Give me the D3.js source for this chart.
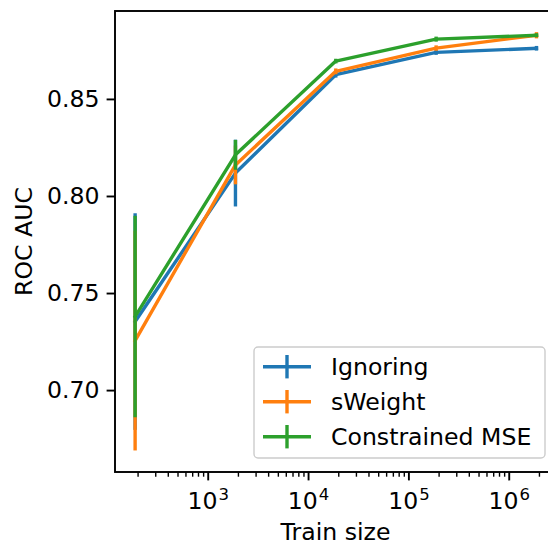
<!DOCTYPE html>
<html>
<head>
<meta charset="utf-8">
<script src="https://cdn.jsdelivr.net/npm/d3@7"></script>
<style>
  html, body { margin: 0; padding: 0; background: #fff; }
  svg { display: block; }
  text { font-family: "DejaVu Sans", sans-serif; fill: #000; }
</style>
</head>
<body>
<div id="chart"></div>
<script>
// ---- data ----
const trainSizes = [189, 1890, 18900, 189000, 1890000];
const seriesNames = ["Ignoring", "sWeight", "Constrained MSE"];
const seriesColors = ["#1f77b4", "#ff7f0e", "#2ca02c"];
const ignoring = [0.7353, 0.8118, 0.8625, 0.8740, 0.8761];
const ignoringErr = [0.0558, 0.0172, 0.0015, 0.0013, 0.0012];
const sweight = [0.7255, 0.8160, 0.8642, 0.8762, 0.8828];
const sweightErr = [0.0566, 0.0100, 0.0015, 0.0014, 0.0016];
const constrained = [0.7379, 0.8212, 0.8695, 0.8808, 0.8828];
const constrainedErr = [0.0519, 0.0077, 0.0012, 0.0013, 0.0010];
const yTicks = [0.70, 0.75, 0.80, 0.85];
const yTickLabels = ["0.70", "0.75", "0.80", "0.85"];
const xTicks = [1e3, 1e4, 1e5, 1e6];
const xTickExps = ["3", "4", "5", "6"];
const xLabel = "Train size";
const yLabel = "ROC AUC";

const seriesValues = [ignoring, sweight, constrained];
const seriesErrs = [ignoringErr, sweightErr, constrainedErr];

// ---- layout ----
const W = 548, H = 544;
const pL = 115, pT = 11, pR = 556.5, pB = 472;
const FS = 23.6;
const LW = 3.4;

const svg = d3.select("#chart").append("svg").attr("width", W).attr("height", H);

const x = d3.scaleLog().domain([Math.pow(10, 2.076), Math.pow(10, 6.476)]).range([pL, pR]);
const y = d3.scaleLinear().domain([0.6578, 0.8953]).range([pB, pT]);

// ---- series ----
const line = d3.line().x(d => x(d[0])).y(d => y(d[1]));
seriesValues.forEach((vals, si) => {
  const pts = trainSizes.map((t, i) => [t, vals[i], seriesErrs[si][i]]);
  const g = svg.append("g");
  g.append("path").datum(pts).attr("d", line)
    .attr("fill", "none").attr("stroke", seriesColors[si])
    .attr("stroke-width", LW).attr("stroke-linejoin", "round").attr("stroke-linecap", "square");
  g.selectAll("line.err").data(pts).enter().append("line")
    .attr("x1", d => x(d[0])).attr("x2", d => x(d[0]))
    .attr("y1", d => y(d[1] - d[2])).attr("y2", d => y(d[1] + d[2]))
    .attr("stroke", seriesColors[si]).attr("stroke-width", LW);
});

// ---- axes ----
const yAxis = d3.axisLeft(y).tickValues(yTicks).tickSize(8.4).tickPadding(7)
  .tickFormat((d, i) => yTickLabels[i]);
const gy = svg.append("g").attr("transform", `translate(${pL},0)`).call(yAxis);
gy.select(".domain").remove();
gy.selectAll(".tick line").attr("stroke", "#000").attr("stroke-width", 1.9);
gy.selectAll(".tick text").attr("font-size", FS).attr("font-family", "DejaVu Sans").attr("fill", "#000");

// minor x ticks
const minor = [];
for (let e = 2; e <= 6; e++) for (let m = 2; m <= 9; m++) {
  const v = m * Math.pow(10, e);
  if (v >= x.domain()[0] && v <= x.domain()[1]) minor.push(v);
}
const gxm = svg.append("g").attr("transform", `translate(0,${pB})`)
  .call(d3.axisBottom(x).tickValues(minor).tickSize(4.7).tickFormat(""));
gxm.select(".domain").remove();
gxm.selectAll(".tick line").attr("stroke", "#000").attr("stroke-width", 1.4);

const gx = svg.append("g").attr("transform", `translate(0,${pB})`)
  .call(d3.axisBottom(x).tickValues(xTicks).tickSize(8.4).tickFormat(""));
gx.select(".domain").remove();
gx.selectAll(".tick line").attr("stroke", "#000").attr("stroke-width", 1.9);
gx.selectAll(".tick").each(function(d, i) {
  const t = d3.select(this).append("text")
    .attr("x", 0).attr("y", 37).attr("text-anchor", "middle")
    .attr("font-size", FS).attr("fill", "#000");
  t.append("tspan").text("10");
  t.append("tspan").attr("font-size", FS * 0.7).attr("dy", -9.5).attr("dx", 1).text(xTickExps[i]);
});

// spines
svg.append("rect").attr("x", pL).attr("y", pT).attr("width", pR - pL).attr("height", pB - pT)
  .attr("fill", "none").attr("stroke", "#000").attr("stroke-width", 1.9);

// labels
svg.append("text").attr("x", 335.5).attr("y", 539.5)
  .attr("text-anchor", "middle").attr("font-size", FS).text(xLabel);
svg.append("text").attr("transform", `translate(31.5,${(pT + pB) / 2}) rotate(-90)`)
  .attr("text-anchor", "middle").attr("font-size", FS).text(yLabel);

// ---- legend ----
const lg = svg.append("g");
lg.append("rect").attr("x", 254).attr("y", 347).attr("width", 291).attr("height", 111)
  .attr("rx", 4).attr("fill", "#fff").attr("fill-opacity", 0.8)
  .attr("stroke", "#cccccc").attr("stroke-width", 1.4);
seriesNames.forEach((name, i) => {
  const cy = 366.7 + i * 35;
  lg.append("line").attr("x1", 263).attr("x2", 311).attr("y1", cy).attr("y2", cy)
    .attr("stroke", seriesColors[i]).attr("stroke-width", LW);
  lg.append("line").attr("x1", 287).attr("x2", 287).attr("y1", cy - 11.7).attr("y2", cy + 11.7)
    .attr("stroke", seriesColors[i]).attr("stroke-width", LW);
  lg.append("text").attr("x", 331).attr("y", cy).attr("dy", "0.35em")
    .attr("font-size", FS).text(name);
});
</script>
</body>
</html>
